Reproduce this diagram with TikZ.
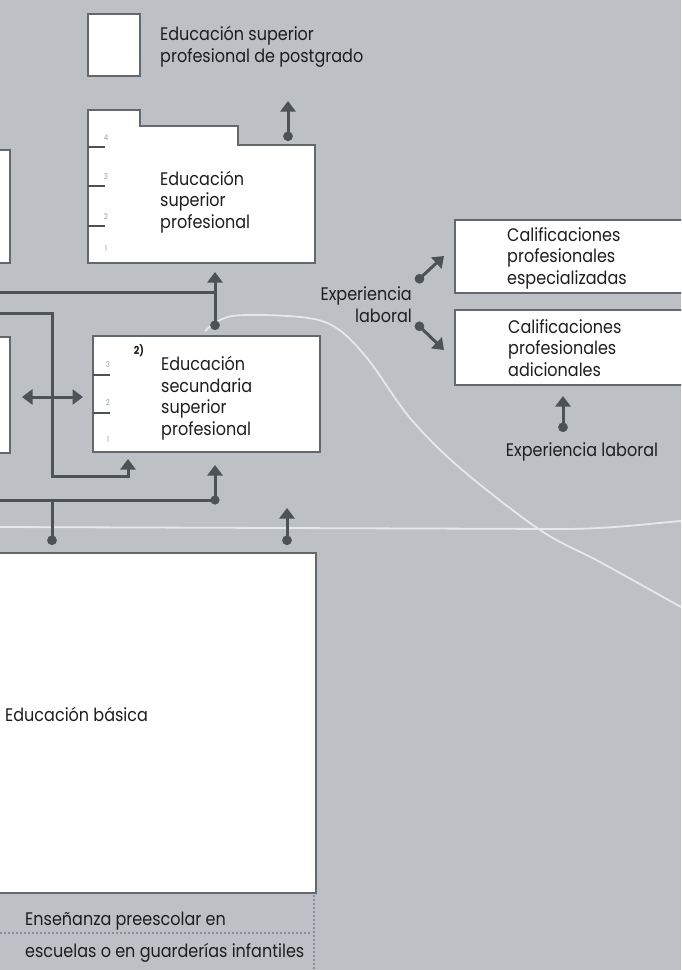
\documentclass[tikz,border=0pt]{standalone}
\usepackage{fontspec}
\setmainfont{Poppins}[FakeStretch=0.88]
\usetikzlibrary{arrows.meta}
\definecolor{bgcol}{HTML}{BDC1C5}
\definecolor{linecol}{HTML}{4C5256}
\definecolor{framecol}{HTML}{62686C}
\definecolor{textcol}{HTML}{1E1E1E}
\definecolor{tickcol}{HTML}{9AA0A5}
\definecolor{trailcol}{HTML}{E6E9EB}
\definecolor{dotcol}{HTML}{878D92}

\tikzset{
  frame/.style={draw=framecol, fill=white, line width=2.4pt},
  box/.style={frame, inner sep=0pt, outer sep=0pt, anchor=north west},
  lbl/.style={inner sep=0pt, anchor=base west, align=left, text=textcol,
    font=\fontsize{18.2}{21.5}\selectfont},
  num/.style={inner sep=0pt, text=tickcol, font=\fontsize{8}{8}\selectfont},
  tick/.style={draw=linecol, line width=1.6pt},
  conn/.style={draw=linecol, line width=3pt},
  dotup/.style={conn, {Circle[length=9.5pt]}-{Triangle[width=15pt,length=10.5pt]}},
  tipup/.style={conn, -{Triangle[width=15pt,length=10.5pt]}},
  bothway/.style={conn, {Triangle[width=15pt,length=10.5pt]}-{Triangle[width=15pt,length=10.5pt]}},
  trail/.style={draw=trailcol, line width=1.8pt},
  dotline/.style={draw=dotcol, line width=1.4pt, dash pattern=on 1.6pt off 2.4pt}
}

\begin{document}
\begin{tikzpicture}[x=1pt,y=-1pt]
\useasboundingbox[fill=bgcol] (0,0) rectangle (681,970);
\clip (0,0) rectangle (681,970);

% light trails
\draw[trail] (0,527) -- (560,529) .. controls (610,529) and (645,524) .. (681,521);
\draw[trail] plot[smooth, tension=0.55] coordinates
  {(205,331) (232,316) (300,317) (335,327) (367,358) (410,418) (460,468) (540,530) (600,562) (681,607)};

% boxes
\node[box, minimum width=52pt, minimum height=62pt] (post) at (88,14) {};
\draw[frame] (88,110) -- (140,110) -- (140,126) -- (238,126) -- (238,145)
  -- (315,145) -- (315,263) -- (88,263) -- cycle;
\node[box, anchor=north east, minimum width=40pt, minimum height=113pt] (leftup) at (10,150) {};
\node[box, anchor=north east, minimum width=40pt, minimum height=116pt] (leftmid) at (10,337) {};
\node[box, minimum width=227pt, minimum height=116pt] (sec) at (93,336) {};
\node[box, anchor=north east, minimum width=340pt, minimum height=340pt] (basic) at (316,553) {};
\node[box, minimum width=240pt, minimum height=73pt] (espec) at (455,220) {};
\node[box, minimum width=240pt, minimum height=75pt] (adic) at (455,310) {};

% level ticks
\foreach \y/\n in {147/4,186/3,226/2}{
  \draw[tick] (88,\y) -- (105,\y);
  \node[num] at (106,\y-9) {\n};
}
\node[num] at (106,249) {1};
\foreach \y/\n in {375/3,413/2}{
  \draw[tick] (93,\y) -- (110,\y);
  \node[num] at (108,\y-10) {\n};
}
\node[num] at (108,440) {1};
\node[inner sep=0pt, text=textcol, font=\fontsize{11}{11}\selectfont\bfseries] (nr) at (139,351) {2)};

% labels (anchored at the baseline of the last line)
\node[lbl] (postlbl) at (160,62) {Educación superior\\profesional de postgrado};
\node[lbl] (suplbl) at (160,228) {Educación\\superior\\profesional};
\node[lbl] (seclbl) at (161,435) {Educación\\secundaria\\superior\\profesional};
\node[lbl] (especlbl) at (507,284) {Calificaciones\\profesionales\\especializadas};
\node[lbl] (adiclbl) at (508,376) {Calificaciones\\profesionales\\adicionales};
\node[lbl, anchor=base east, align=right] (explbl) at (412,322) {Experiencia\\laboral};
\node[lbl, anchor=base] (expbot) at (582,456) {Experiencia laboral};
\node[lbl] (baslbl) at (5,721) {Educación básica};
\node[lbl, font=\fontsize{18.2}{32}\selectfont] (prelbl) at (25,957)
  {Enseñanza preescolar en\\escuelas o en guarderías infantiles};

% preschool band
\coordinate (pw) at (0,933);
\coordinate (pe) at (312,933);
\coordinate (pn) at (314,895);
\coordinate (ps) at (314,970);
\draw[dotline] (pw) -- (pe);
\draw[dotline] (pn) -- (ps);

% connectors
\coordinate (w1) at (0,292);
\coordinate (j1) at (215,292);
\coordinate (w2) at (0,313);
\coordinate (k1) at (52,476);
\coordinate (t2) at (128,459);
\coordinate (w3) at (0,500);
\coordinate (j3) at (215,500);
\coordinate (j4) at (52,500);
\coordinate (d4) at (52,545);
\draw[conn] (w1) -- (j1);
\draw[dotup] (215,330) -- (215,272);
\draw[dotup] (288,141) -- (288,101);
\draw[tipup] (w2) -| (k1) -| (t2);
\draw[bothway] (22,397) -- (83,397);
\draw[tipup] (w3) -| (215,465);
\fill[linecol] (j3) circle (4.6pt);
\draw[conn, {Circle[length=9.5pt]}-] (d4) -- (j4);
\draw[dotup] (287,545) -- (287,508);

% right side
\draw[dotup] (416,282) -- (444,256);
\draw[dotup] (416,323) -- (444,350);
\draw[dotup] (563,432) -- (563,396);
\end{tikzpicture}
\end{document}
